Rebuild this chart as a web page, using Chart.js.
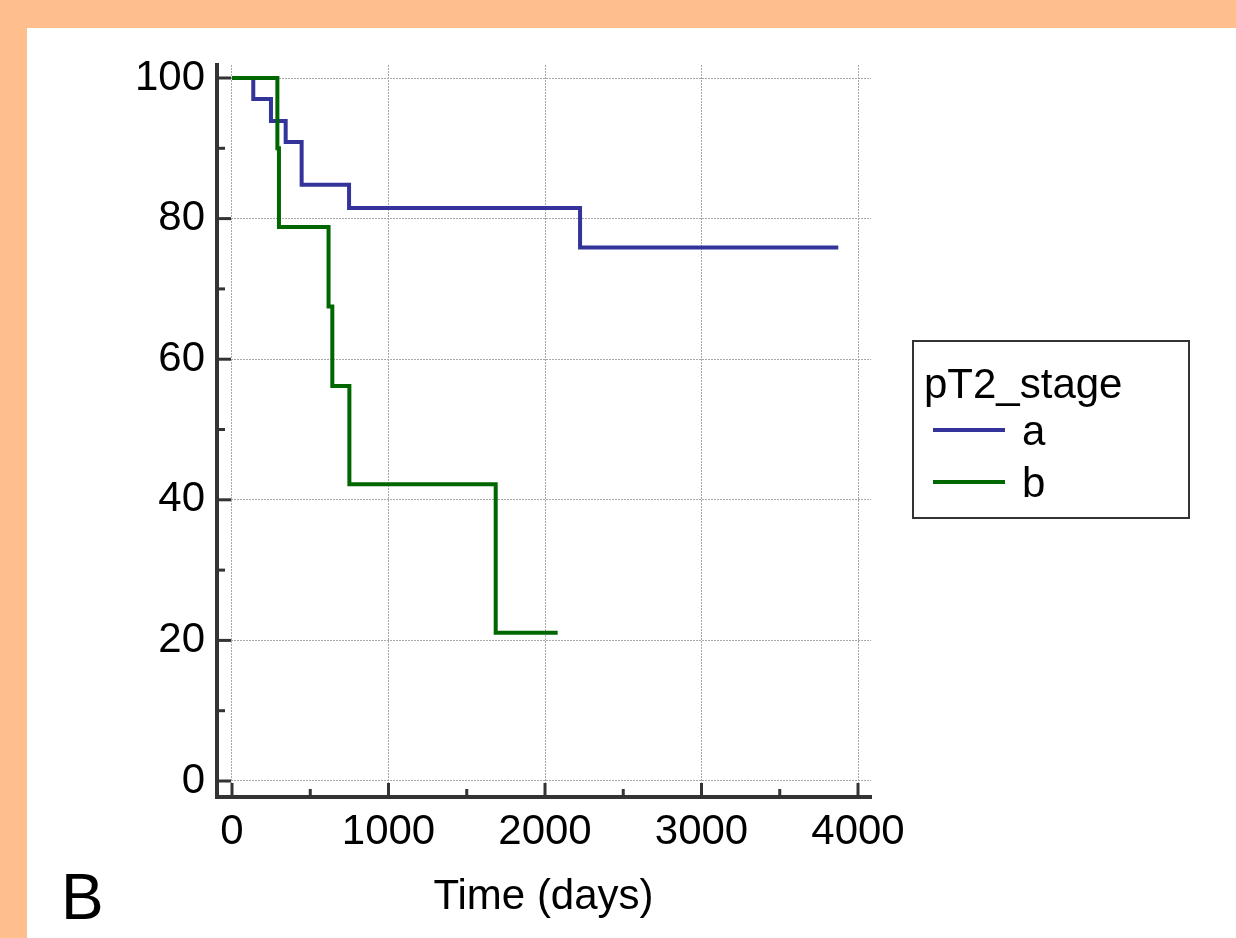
<!DOCTYPE html>
<html><head><meta charset="utf-8">
<script src="https://cdn.jsdelivr.net/npm/chart.js@4/dist/chart.umd.min.js"></script>
<style>html,body{margin:0;padding:0;background:#fff;overflow:hidden}canvas{display:block}</style>
</head><body><canvas id="c" width="1236" height="938"></canvas>
<script>
// ---- data ----
const timesA = [0, 136, 249, 343, 445, 748, 2224, 3874];
const survA  = [100, 97.0, 93.9, 90.9, 84.8, 81.5, 75.9, 75.9];
const timesB = [0, 290, 300, 617, 641, 750, 1685, 2081];
const survB  = [100, 90.0, 78.8, 67.5, 56.2, 42.2, 21.1, 21.1];
const xTicks = [0, 1000, 2000, 3000, 4000];
const yTicks = [0, 20, 40, 60, 80, 100];
const xMinor = [500, 1500, 2500, 3500];
const yMinor = [10, 30, 50, 70, 90];
const groupLabels = ['a', 'b'];
const legendTitle = 'pT2_stage';
const xTitle = 'Time (days)';
const panelLabel = 'B';

const FONT = '"Liberation Sans", Arial, Helvetica, sans-serif';
const AXIS = '#333333';
const PEACH = '#FEBE8E';
const colors = ['#333399', '#006600'];

const toPts = (xs, ys) => xs.map((x, i) => ({x: x, y: ys[i]}));

const decor = {
  id: 'decor',
  beforeDraw(chart) {
    const c = chart.ctx;
    c.save();
    c.fillStyle = '#ffffff';
    c.fillRect(0, 0, chart.width, chart.height);
    c.fillStyle = PEACH;
    c.fillRect(0, 0, chart.width, 28);
    c.fillRect(0, 0, 27, chart.height);
    c.restore();
  },
  afterDatasetsDraw(chart) {
    const c = chart.ctx;
    const xs = chart.scales.x, ys = chart.scales.y;
    const L = chart.chartArea.left, B = chart.chartArea.bottom, T = chart.chartArea.top, R = chart.chartArea.right;
    c.save();
    c.strokeStyle = AXIS;
    c.lineCap = 'butt';
    // axis lines
    c.lineWidth = 4;
    c.beginPath(); c.moveTo(L + 1, T - 2); c.lineTo(L + 1, B + 2); c.stroke();
    c.beginPath(); c.moveTo(L - 1, B); c.lineTo(R + 1, B); c.stroke();
    // ticks
    c.lineWidth = 3;
    yTicks.forEach(v => { const p = ys.getPixelForValue(v); c.beginPath(); c.moveTo(L + 1, p); c.lineTo(L + 15, p); c.stroke(); });
    yMinor.forEach(v => { const p = ys.getPixelForValue(v); c.beginPath(); c.moveTo(L + 1, p); c.lineTo(L + 9, p); c.stroke(); });
    xTicks.forEach(v => { const p = xs.getPixelForValue(v); c.beginPath(); c.moveTo(p, B); c.lineTo(p, B - 14); c.stroke(); });
    xMinor.forEach(v => { const p = xs.getPixelForValue(v); c.beginPath(); c.moveTo(p, B); c.lineTo(p, B - 8); c.stroke(); });
    // legend
    c.lineWidth = 2;
    c.strokeStyle = AXIS;
    c.strokeRect(913, 341, 276, 177);
    c.fillStyle = '#000';
    c.font = '42px ' + FONT;
    c.textBaseline = 'alphabetic';
    c.textAlign = 'left';
    c.fillText(legendTitle, 924, 398);
    chart.data.datasets.forEach((ds, i) => {
      const y = 430 + i * 52;
      c.strokeStyle = ds.borderColor;
      c.lineWidth = 4;
      c.beginPath(); c.moveTo(933, y); c.lineTo(1005, y); c.stroke();
      c.fillStyle = '#000';
      c.fillText(ds.label, 1022, y + 15);
    });
    // panel label
    c.font = '64px ' + FONT;
    c.fillText(panelLabel, 61, 919);
    c.restore();
  }
};

new Chart(document.getElementById('c'), {
  type: 'line',
  data: {
    datasets: [
      {label: groupLabels[0], data: toPts(timesA, survA), borderColor: colors[0], borderWidth: 4, stepped: true, pointRadius: 0, fill: false, order: 1},
      {label: groupLabels[1], data: toPts(timesB, survB), borderColor: colors[1], borderWidth: 4, stepped: true, pointRadius: 0, fill: false, order: 0}
    ]
  },
  options: {
    responsive: false,
    animation: false,
    devicePixelRatio: 1,
    layout: {padding: {top: 65, right: 365, bottom: 0, left: 0}},
    plugins: {legend: {display: false}, tooltip: {enabled: false}, title: {display: false}},
    scales: {
      x: {
        type: 'linear', min: -102.2, max: 4083,
        afterBuildTicks: s => { s.ticks = xTicks.map(v => ({value: v})); },
        afterFit: s => { s.height = 141; },
        grid: {color: '#a8a8a8', lineWidth: 1, drawTicks: false},
        border: {display: false, dash: [2, 1]},
        ticks: {padding: 10, color: '#000', font: {family: FONT, size: 42}, maxRotation: 0, autoSkip: false, callback: v => String(v)},
        title: {display: true, text: xTitle, color: '#000', font: {family: FONT, size: 42}, padding: {top: 0, bottom: 15}}
      },
      y: {
        type: 'linear', min: -2.276, max: 101.85,
        afterBuildTicks: s => { s.ticks = yTicks.map(v => ({value: v})); },
        afterFit: s => { s.width = 216; },
        grid: {color: '#a8a8a8', lineWidth: 1, drawTicks: false},
        border: {display: false, dash: [2, 1]},
        ticks: {padding: 11, color: '#000', font: {family: FONT, size: 42}, autoSkip: false, callback: v => String(v)}
      }
    }
  },
  plugins: [decor]
});
</script>
</body></html>
